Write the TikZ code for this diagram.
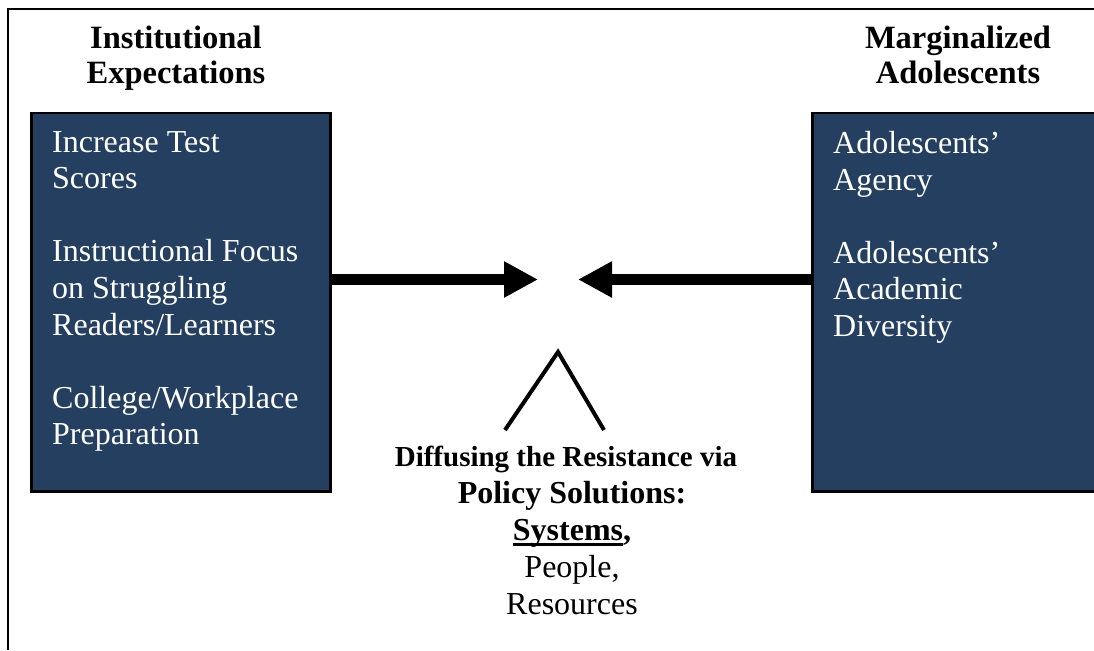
\documentclass[tikz,border=0pt]{standalone}
\usepackage{fontspec}
\setmainfont{Liberation Serif}
\usetikzlibrary{arrows.meta}
\definecolor{navy}{HTML}{243F60}
\newcommand\myul[1]{\setbox0\hbox{#1}\rlap{\rule[-5pt]{\wd0}{2.2pt}}\box0}
\begin{document}
\begin{tikzpicture}[x=1pt,y=-1pt,
  frame/.style={line width=2pt},
  bluebox/.style={draw=black, line width=2.5pt, fill=navy, rectangle, inner sep=0pt, anchor=north west},
  boxtext/.style={text=white, align=left, inner sep=0pt, anchor=north west, font=\fontsize{32}{36.6}\selectfont},
  heading/.style={align=center, inner sep=0pt, anchor=north, font=\fontsize{32.5}{35}\selectfont\bfseries},
  bigarrow/.style={line width=11pt, -{Triangle[length=34pt,width=34pt]}},
  peak/.style={line width=4pt},
  centertext/.style={align=center, inner sep=0pt, anchor=north, font=\fontsize{32}{37}\selectfont}
]
\useasboundingbox (0,0) rectangle (1094,650);
% frame
\coordinate (ftl) at (8,9);
\coordinate (ftr) at (1094,9);
\coordinate (fbl) at (8,650);
\draw[frame] (ftr) -- (ftl) -- (fbl);
% headings
\node[heading] (lhead) at (176,26) {Institutional\\Expectations};
\node[heading] (rhead) at (958,26) {Marginalized\\Adolescents};
% boxes
\node[bluebox, minimum width=299pt, minimum height=378pt] (lbox) at (30,112) {};
\node[bluebox, minimum width=300pt, minimum height=378pt] (rbox) at (811,112) {};
\node[boxtext] (ltext) at (52,131) {Increase Test\\Scores\\[36.6pt]Instructional Focus\\on Struggling\\Readers/Learners\\[36.6pt]College/Workplace\\Preparation};
\node[boxtext] (rtext) at (833,131) {Adolescents’\\Agency\\[36.6pt]Adolescents’\\Academic\\Diversity};
% arrows
\coordinate (ltip) at (538,279.5);
\coordinate (rtip) at (578,279.5);
\draw[bigarrow] (lbox.east |- ltip) -- (ltip);
\draw[bigarrow] (rbox.west |- rtip) -- (rtip);
% peak
\coordinate (apex) at (558,352);
\coordinate (pl) at (505,430);
\coordinate (pr) at (604,430);
\draw[peak] (pl) -- (apex) -- (pr);
% center text
\node[centertext] (ctext) at (572,446) {{\fontsize{29}{37}\selectfont\bfseries Diffusing the Resistance via\hspace*{12pt}}\\\textbf{Policy Solutions:}\\\textbf{\myul{Systems},}\\People,\\Resources};
\end{tikzpicture}
\end{document}
